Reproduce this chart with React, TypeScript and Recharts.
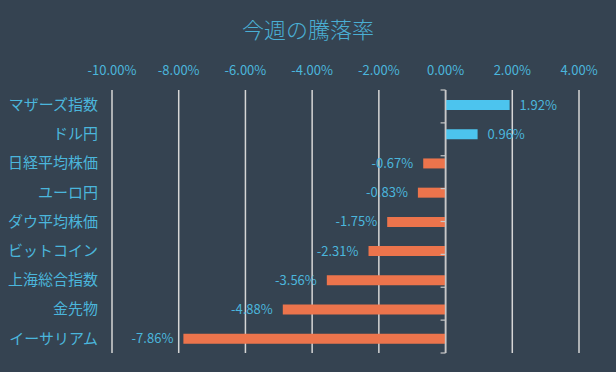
import { BarChart, Bar, XAxis, YAxis, CartesianGrid, ReferenceLine, LabelList, Cell } from 'recharts'

const names = ['マザーズ指数', 'ドル円', '日経平均株価', 'ユーロ円', 'ダウ平均株価', 'ビットコイン', '上海総合指数', '金先物', 'イーサリアム']
const changes = [1.92, 0.96, -0.67, -0.83, -1.75, -2.31, -3.56, -4.88, -7.86]
const xTicks = [-10, -8, -6, -4, -2, 0, 2, 4]
const bandEdges = [0, 1, 2, 3, 4, 5, 6, 7, 8, 9]

const data = names.map((name, i) => ({ name, value: changes[i] }))

const textBlue = '#4bb6dc'
const font = '"Noto Sans CJK JP", "Open Sans", sans-serif'

const renderLabel = (props: any) => {
  const { x, y, width, height, value } = props
  const left = Math.min(x, x + width)
  const right = Math.max(x, x + width)
  const pos = value >= 0
  return (
    <text
      x={pos ? right + 10 : left - 10}
      y={y + height / 2}
      dy={4.5}
      textAnchor={pos ? 'start' : 'end'}
      fill={textBlue}
      fontSize={13}
      fontFamily={font}
    >
      {value.toFixed(2)}%
    </text>
  )
}

export default function App() {
  return (
    <div style={{ position: 'absolute', left: 0, top: 0, width: 616, height: 372, background: '#354351', fontFamily: font }}>
      <div style={{ position: 'absolute', top: 12, left: 0, width: 616, textAlign: 'center', fontSize: 22, color: '#4aafd4', fontWeight: 300 }}>
        今週の騰落率
      </div>
      <BarChart width={616} height={372} layout="vertical" data={data} barSize={10}
        margin={{ top: 60, right: 37, bottom: 19, left: 0 }}>
        <CartesianGrid horizontal={false} stroke="#d6d6d6" strokeWidth={1.5} />
        <XAxis type="number" orientation="top" domain={[-10, 4]} ticks={xTicks} height={30}
          axisLine={false} tickLine={false} tickMargin={9}
          tick={{ fontSize: 13, fill: textBlue, fontFamily: font }}
          tickFormatter={(v: number) => `${v.toFixed(2)}%`} />
        <YAxis type="category" dataKey="name" width={112} axisLine={false} tickLine={false} tickMargin={8}
          tick={{ fontSize: 15, fill: textBlue, fontFamily: font }} interval={0} />
        <YAxis yAxisId="edges" type="number" domain={[0, 9]} hide />
        <Bar dataKey="value" isAnimationActive={false}>
          {data.map((d) => (
            <Cell key={d.name} fill={d.value >= 0 ? '#4cc4ee' : '#ec744c'} />
          ))}
          <LabelList dataKey="value" content={renderLabel} />
        </Bar>
        <ReferenceLine x={0} stroke="#c8c8c8" strokeWidth={1.5} />
        {bandEdges.map((b) => (
          <ReferenceLine key={b} yAxisId="edges" segment={[{ x: -0.15, y: b }, { x: 0, y: b }]}
            stroke="#c8c8c8" strokeWidth={1.2} />
        ))}
      </BarChart>
    </div>
  )
}
